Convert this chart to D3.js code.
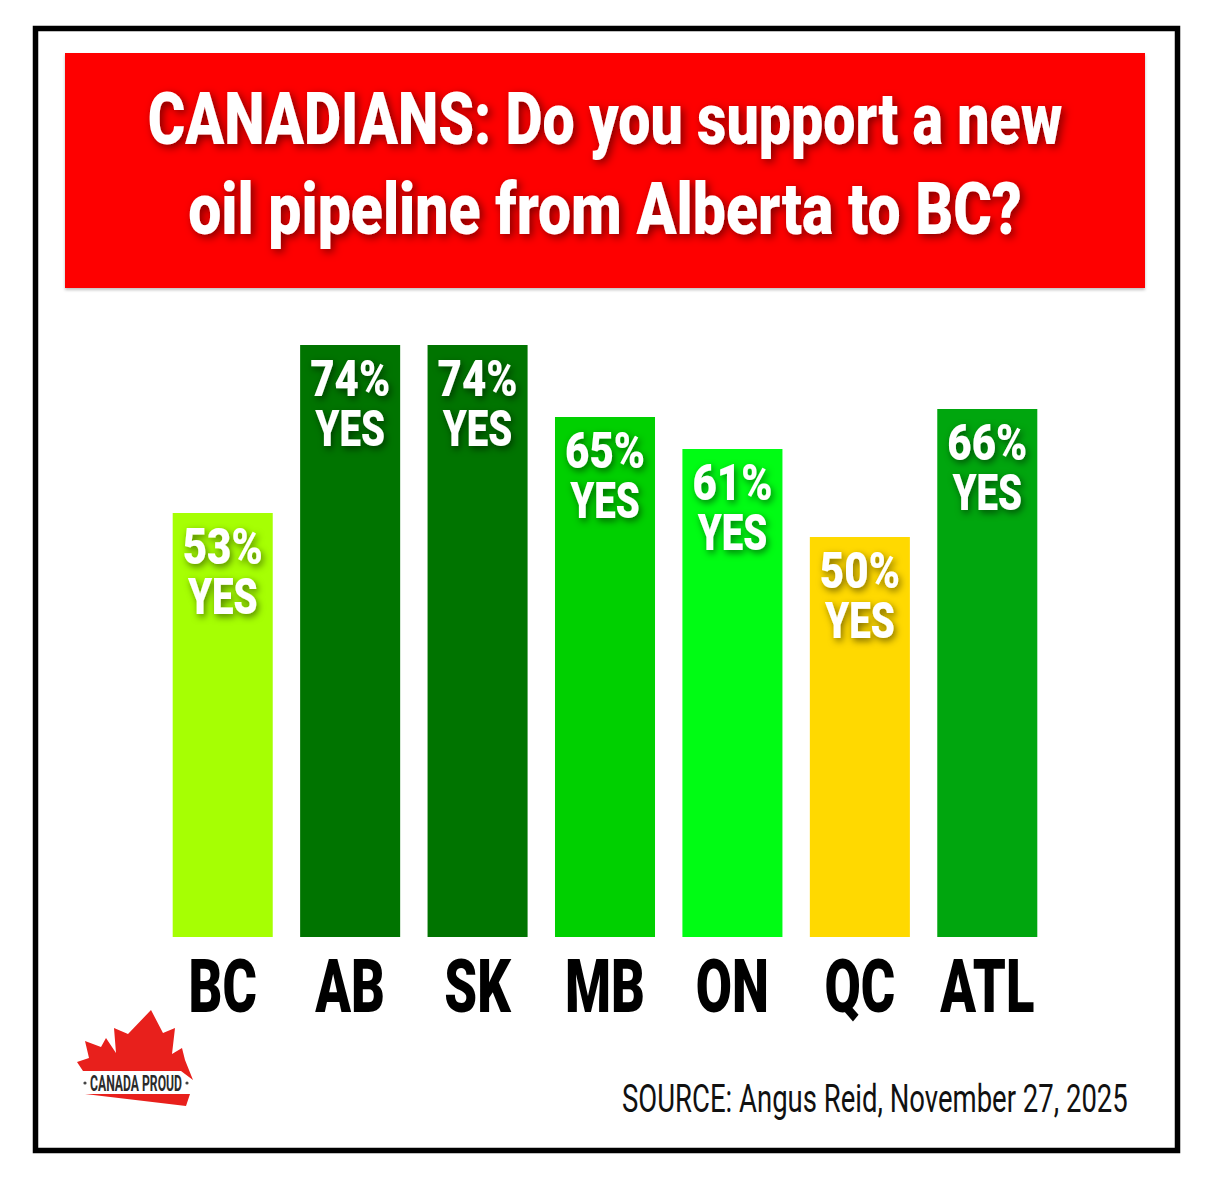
<!DOCTYPE html>
<html>
<head>
<meta charset="utf-8">
<script src="https://cdn.jsdelivr.net/npm/d3@7"></script>
<style>
  body { margin: 0; background: #fff; }
  svg { display: block; }
</style>
</head>
<body>
<svg id="chart" width="1206" height="1182"></svg>
<script>
// Poll results: share answering YES, by region
const regions = ["BC", "AB", "SK", "MB", "ON", "QC", "ATL"];
const yesShare = [53, 74, 74, 65, 61, 50, 66];
const barColors = ["#a6ff03", "#007400", "#007400", "#00d000", "#00fc14", "#ffd900", "#00a60e"];
const titleLines = ["CANADIANS: Do you support a new", "oil pipeline from Alberta to BC?"];
const answerWord = "YES";
const sourceNote = "SOURCE: Angus Reid, November 27, 2025";
const brandName = "CANADA PROUD";

const W = 1206, H = 1182;
const svg = d3.select("#chart");
const FONT = "Roboto, 'Noto Sans', 'DejaVu Sans', sans-serif";

// soft dark glow used behind white lettering
const defs = svg.append("defs");
function addShadow(id, dx, dy, sd, op) {
  const f = defs.append("filter").attr("id", id)
    .attr("x", "-20%").attr("y", "-40%").attr("width", "140%").attr("height", "180%");
  f.append("feDropShadow").attr("dx", dx).attr("dy", dy).attr("stdDeviation", sd)
    .attr("flood-color", "#000").attr("flood-opacity", op);
}
addShadow("titleGlow", 3, 3, 4.5, 0.5);
addShadow("labelGlow", 2, 3, 3.5, 0.5);
addShadow("boxShadow", 0, 2, 1.5, 0.25);

// squeeze a text horizontally so its drawn width equals `width`, anchored at (cx, baseline)
function fitWidth(sel, cx, baseline, width, anchor) {
  sel.each(function () {
    const natural = this.getComputedTextLength();
    const k = width / natural;
    d3.select(this)
      .attr("x", 0).attr("y", 0)
      .attr("text-anchor", anchor)
      .attr("transform", `translate(${cx},${baseline}) scale(${k},1)`);
  });
}

// page frame
svg.append("rect").attr("width", W).attr("height", H).attr("fill", "#fff");
svg.append("rect")
  .attr("x", 35.5).attr("y", 28.5).attr("width", 1142).attr("height", 1122)
  .attr("fill", "#fff").attr("stroke", "#000").attr("stroke-width", 5.5);

// title banner
svg.append("rect")
  .attr("x", 65).attr("y", 53).attr("width", 1080).attr("height", 235)
  .attr("fill", "#fe0000").attr("filter", "url(#boxShadow)");

const titleWidths = [915, 834];
const titleG = svg.append("g").attr("filter", "url(#titleGlow)");
titleLines.forEach((line, i) => {
  const t = titleG.append("text")
    .attr("font-family", FONT).attr("font-weight", 900).attr("font-size", 72)
    .attr("fill", "#fff")
    .text(line);
  fitWidth(t, 605, 144 + i * 90, titleWidths[i], "middle");
});

// scales
const x = d3.scaleBand().domain(regions).range([159, 1051]).paddingInner(0.215).paddingOuter(0.1075);
const y = d3.scaleLinear().domain([0, 100]).range([937, 137]);

const rows = regions.map((r, i) => ({ region: r, value: yesShare[i], color: barColors[i] }));

// bars
svg.append("g").selectAll("rect").data(rows).join("rect")
  .attr("x", d => x(d.region))
  .attr("y", d => y(d.value))
  .attr("width", x.bandwidth())
  .attr("height", d => y(0) - y(d.value))
  .attr("fill", d => d.color);

// two-line value labels inside the bars ("NN%" over "YES")
const lbl = svg.append("g").attr("filter", "url(#labelGlow)")
  .selectAll("text").data(rows).join("text")
  .attr("transform", d => `translate(${x(d.region) + x.bandwidth() / 2},${y(d.value) + 51}) scale(0.8,1.04)`)
  .attr("text-anchor", "middle")
  .attr("font-family", FONT).attr("font-weight", 900).attr("font-size", 48)
  .attr("fill", "#fff");

lbl.append("tspan").attr("x", 0).attr("y", 0)
  .attr("textLength", 100).attr("lengthAdjust", "spacingAndGlyphs")
  .text(d => d.value + "%");
lbl.append("tspan").attr("x", 0).attr("dy", 48)
  .text(answerWord);

// category axis
const axis = svg.append("g").attr("transform", `translate(0,${y(0)})`)
  .call(d3.axisBottom(x).tickSize(0).tickPadding(0));
axis.select(".domain").remove();
axis.selectAll(".tick text")
  .attr("y", 0).attr("dy", 0)
  .attr("transform", "translate(0,75) scale(0.71,1)")
  .attr("font-family", FONT).attr("font-weight", 900).attr("font-size", 74)
  .attr("fill", "#000");

// source line
const src = svg.append("text")
  .attr("font-family", FONT).attr("font-weight", 400).attr("font-size", 38)
  .attr("fill", "#111")
  .text(sourceNote);
fitWidth(src, 622, 1112, 506, "start");

// brand mark: maple leaf, name band and red swoosh
const logo = svg.append("g").attr("transform", "translate(77,1008)");
const leaf = [[0,54],[12,50],[8,33],[24,39],[29,30],[39,45],[37,20],[51,26],[74,2],[86,25],
              [98,20],[95,46],[105,40],[108,52],[116,72],[104,63],[6,63]];
logo.append("path").attr("d", d3.line()(leaf) + "Z").attr("fill", "#e8201c");
logo.append("path").attr("d", d3.line()([[8,86],[113,86],[109,98]]) + "Z").attr("fill", "#e8201c");
const brand = logo.append("text")
  .attr("font-family", FONT).attr("font-weight", 700).attr("font-size", 22)
  .attr("fill", "#2b2b2b")
  .text(brandName);
fitWidth(brand, 59, 83, 92, "middle");
logo.selectAll("circle").data([8, 110]).join("circle")
  .attr("cx", d => d).attr("cy", 75).attr("r", 1.6).attr("fill", "#444");
</script>
</body>
</html>
